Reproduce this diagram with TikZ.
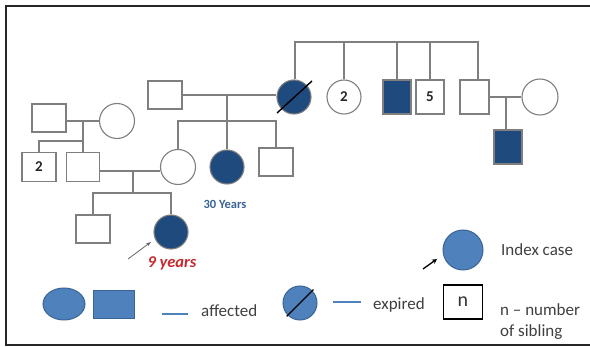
\documentclass[tikz,border=0pt]{standalone}
\usepackage{fontspec}
\setmainfont{Carlito}
\usetikzlibrary{arrows.meta,shapes.geometric,calc}
\definecolor{dkblue}{HTML}{1F4A7E}
\definecolor{lgblue}{HTML}{4F81BD}
\definecolor{lgedge}{HTML}{3A6496}
\definecolor{lnclr}{HTML}{7F7F7F}
\definecolor{redtxt}{HTML}{C8282E}
\definecolor{txtgray}{HTML}{404040}
\tikzset{
  ln/.style={draw=lnclr, line width=1.1pt},
  msq/.style={rectangle, draw=lnclr, line width=1.1pt, fill=white, inner sep=0pt, minimum width=#1},
  fsq/.style={rectangle, draw=lnclr, line width=1.1pt, fill=dkblue, inner sep=0pt, minimum width=28pt, minimum height=34pt},
  fcirc/.style={circle, draw=lnclr, line width=1.1pt, fill=dkblue, inner sep=0pt, minimum size=#1},
  fcirc/.default=34pt,
  ocirc/.style={circle, draw=lnclr, line width=1.1pt, fill=white, inner sep=0pt, minimum size=#1},
  ocirc/.default=34pt,
  num/.style={font=\fontsize{15}{15}\selectfont\bfseries, text=black!85},
  lgtxt/.style={font=\fontsize{17}{21}\selectfont, text=txtgray, anchor=west, inner sep=0pt},
}
\begin{document}
\begin{tikzpicture}[x=1pt,y=-1pt]
\useasboundingbox (0,0) rectangle (590,347);
\fill[white] (0,0) rectangle (590,347);
\draw[line width=2pt, draw=black!85] (600,6) -- (6,6) -- (6,345) -- (600,345);

% generation: top siblings
\node[fcirc] (dec) at (294,97) {};
\node[ocirc, num] (c2) at (344,97) {2};
\node[fsq] (fs1) at (397,97) {};
\node[msq=28pt, minimum height=34pt, num] (s5) at (430,97) {5};
\node[msq=29pt, minimum height=34pt] (sq6) at (474.5,97) {};
\node[ocirc=36pt] (wf6) at (540,97) {};
\node[fsq] (fs2) at (508,147) {};
\draw[line width=1.4pt, black] (277,113) -- (312,81);

\coordinate (tl) at (295,42);
\coordinate (tr) at (478,42);
\draw[ln] (dec.north -| tl) |- (tr) -- (tr |- sq6.north);
\draw[ln] (c2.north) -- (c2.north |- tl);
\draw[ln] (fs1.north) -- (fs1.north |- tl);
\draw[ln] (s5.north) -- (s5.north |- tl);

\coordinate (m6) at (506,97);
\draw[ln] (sq6.east |- m6) -- (wf6.west |- m6);
\draw[ln] (m6) -- (m6 |- fs2.north);

% second couple
\node[msq=34pt, minimum height=28pt] (hus) at (165,95) {};
\draw[ln] (hus.east) -- (dec.west |- hus.east);
\coordinate (m1) at (227,95);
\coordinate (sb1) at (227,121);
\node[ocirc=35pt] (mom) at (178,167) {};
\node[fcirc] (a30) at (227,167) {};
\node[msq=34pt, minimum height=28pt] (sq3) at (276,162) {};
\draw[ln] (m1) -- (a30.north);
\draw[ln] (mom.north) |- (sb1) -| (sq3.north);
\node[font=\fontsize{12.5}{13}\selectfont\bfseries, text=lgedge] (t30) at (225,204) {30 Years};

% left couple
\node[msq=34pt, minimum height=28pt] (gp) at (49,118) {};
\node[ocirc=35pt] (gm) at (117,121) {};
\draw[ln] (gp.east |- gm.west) -- (gm.west);
\node[msq=34pt, minimum height=29pt, num] (s2) at (39,167) {2};
\node[msq=33pt, minimum height=29pt] (fa) at (83,167) {};
\coordinate (m2) at (83,121);
\coordinate (sb2) at (83,141);
\draw[ln] (m2) -- (fa.north);
\draw[ln] (s2.north) |- (sb2);

% parents of index
\draw[ln] (fa.east |- 0,171) -- (mom.west |- 0,171);
\coordinate (m3) at (133,171);
\coordinate (sb3) at (133,193);
\node[msq=34pt, minimum height=28pt] (sq4) at (93,229) {};
\node[fcirc] (idx) at (171,232) {};
\draw[ln] (m3) -- (sb3);
\draw[ln] (sq4.north) |- (sb3) -| (idx.north);
\coordinate (ar1) at (128,259);
\coordinate (ar2) at (151,242);
\draw[draw=black!60, line width=0.8pt, -{Stealth[length=5pt,width=3.5pt]}] (ar1) -- (ar2);
\node[font=\fontsize{16.5}{17}\selectfont\bfseries\itshape, text=redtxt] (t9) at (172,263) {9 years};

% legend
\node[ellipse, draw=lgedge, line width=1pt, fill=lgblue, minimum width=42pt, minimum height=32pt, inner sep=0pt] (le) at (64,304) {};
\node[rectangle, draw=lgedge, line width=1pt, fill=lgblue, minimum width=41pt, minimum height=28pt, inner sep=0pt] (lr) at (114,305) {};
\coordinate (la1) at (162,314);
\coordinate (la2) at (188,314);
\draw[draw=lgblue, line width=1.2pt] (la1) -- (la2);
\node[lgtxt] (taff) at (201,311) {affected};

\node[circle, draw=lgedge, line width=1pt, fill=lgblue, minimum size=34pt, inner sep=0pt] (lexp) at (300,303) {};
\draw[line width=1.4pt, black] ($(lexp.south west)+(-1,1)$) -- ($(lexp.north east)+(1,-1)$);
\coordinate (lb1) at (333,302);
\coordinate (lb2) at (361,302);
\draw[draw=lgblue, line width=1.2pt] (lb1) -- (lb2);
\node[lgtxt] (texp) at (373,305) {expired};

\node[rectangle, draw=black, line width=1.6pt, minimum width=39pt, minimum height=34pt, inner sep=0pt, font=\fontsize{20}{20}\selectfont, text=black!80] (lbox) at (463,302) {n};
\node[lgtxt, align=left] (tn) at (500,322) {n – number\\of sibling};

\node[circle, draw=lgedge, line width=1pt, fill=lgblue, minimum size=40pt, inner sep=0pt] (lidx) at (463,250) {};
\coordinate (ia) at (423,269);
\coordinate (ib) at (437,259);
\draw[black, line width=1.3pt, -{Stealth[length=5pt,width=5pt]}] (ia) -- (ib);
\node[lgtxt] (tidx) at (501,250) {Index case};
\end{tikzpicture}
\end{document}
